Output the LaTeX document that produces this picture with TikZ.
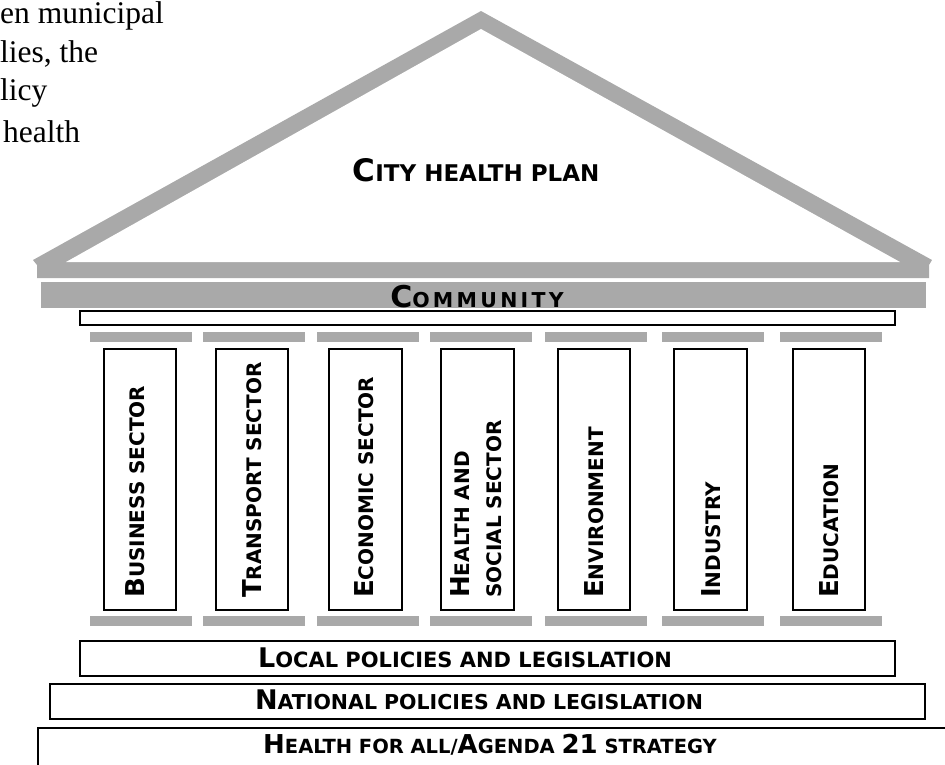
\documentclass[tikz,border=0pt]{standalone}
\usepackage{fontspec}
\setmainfont{Liberation Serif}
\newfontfamily\pillarfont{DejaVu Sans}
\newfontfamily\beamfont[LetterSpace=16]{DejaVu Sans}
\usetikzlibrary{positioning}
\definecolor{cStone}{HTML}{A9A9A9}
\definecolor{cInk}{HTML}{000000}
% first letter large, rest as small capitals
\def\capbig{27}
\newcommand\capsc[2]{{\fontsize{\capbig}{30}\selectfont #1}#2}
\tikzset{
  stone/.style ={fill=cStone,draw=none},
  slab/.style  ={draw=cInk,line width=1.6pt,fill=white},
  pillar/.style={draw=cInk,line width=1.6pt,fill=white,
                 minimum width=72.5pt,minimum height=261.5pt,inner sep=0pt},
  sctext/.style={font=\pillarfont\bfseries\fontsize{21}{32}\selectfont\def\capbig{27},
                 inner sep=0pt,text=cInk},
  plantext/.style={sctext,font=\pillarfont\bfseries\fontsize{23}{30}\selectfont\def\capbig{31}},
  beamtext/.style={sctext,font=\beamfont\bfseries\fontsize{20.5}{30}\selectfont\def\capbig{30}},
  coltext/.style={sctext,font=\pillarfont\bfseries\fontsize{20}{32}\selectfont\def\capbig{26},
                  rotate=90,anchor=south west,align=left},
  body/.style  ={font=\fontsize{31.5}{40}\selectfont,anchor=base west,inner sep=0pt},
}
\begin{document}
\begin{tikzpicture}[x=1pt,y=-1pt]
\useasboundingbox (0,0) rectangle (945,764);
\clip (0,0) rectangle (945,764);

% cut-off body text
\node[body] (t1) at (0,23)  {en municipal};
\node[body] (t2) at (0,62)  {lies, the};
\node[body] (t3) at (0,100) {licy};
\node[body] (t4) at (3,142) {health};

% roof
\fill[stone] (481,11) -- (932,260) -- (929,265) -- (929,278) -- (37,278)
             -- (37,265) -- (33,260) -- cycle;
\fill[white] (481,29) -- (900,262) -- (66,262) -- cycle;
\node[plantext,anchor=base] (plan) at (476,181) {\capsc{C}{ITY HEALTH PLAN}};

% community beam
\fill[stone] (41,282) rectangle (926,308);
\node[beamtext,anchor=base] (comm) at (477,307) {\capsc{C}{OMMUNITY}};
\draw[slab] (80,311) rectangle (895,325);

% capitals and bases
\foreach \bx in {90,203,317,430,545,662,780}{
  \fill[stone] (\bx,332) rectangle ++(102,10);
  \fill[stone] (\bx,616) rectangle ++(102,10);
}

% pillars
\foreach \cx/\nm/\off/\lbl in {
    140/bus/5/{\capsc{B}{USINESS SECTOR}},
    252/tra/10/{\capsc{T}{RANSPORT SECTOR}},
    365.5/eco/8/{\capsc{E}{CONOMIC SECTOR}},
    477.5/hea/24.5/{\capsc{H}{EALTH AND}\\SOCIAL SECTOR},
    594/env/10/{\capsc{E}{NVIRONMENT}},
    710.5/ind/10/{\capsc{I}{NDUSTRY}},
    829/edu/10/{\capsc{E}{DUCATION}}}{
  \node[pillar] (\nm) at (\cx,479.5) {};
  \node[coltext] (\nm-l) at (\cx+\off,598) {\lbl};
}

% foundations
\draw[slab] (80,641) rectangle (895,676);
\node[sctext,anchor=base] (local) at (465,667) {\capsc{L}{OCAL POLICIES AND LEGISLATION}};
\draw[slab] (50,684) rectangle (925,719);
\node[sctext,font=\pillarfont\bfseries\fontsize{20.5}{30}\selectfont,anchor=base] (nat) at (479,709)
  {\capsc{N}{ATIONAL POLICIES AND LEGISLATION}};
\draw[slab] (38,728) rectangle (970,790);
\node[sctext,font=\pillarfont\bfseries\fontsize{19.5}{30}\selectfont\def\capbig{26},anchor=base] (hfa) at (490,753)
  {\capsc{H}{EALTH FOR ALL/}\capsc{A}{GENDA }\capsc{21}{ STRATEGY}};
\end{tikzpicture}
\end{document}
